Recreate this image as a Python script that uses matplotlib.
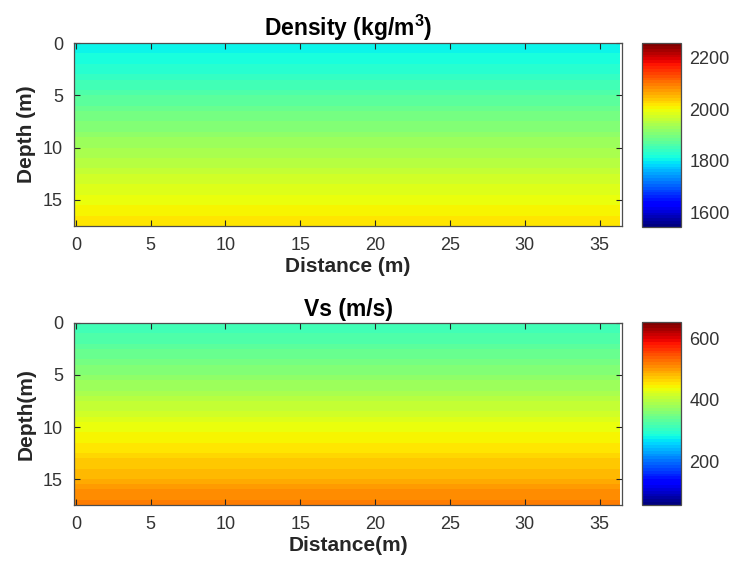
import matplotlib
matplotlib.use("Agg")
import matplotlib.pyplot as plt
import numpy as np

plt.rcParams['font.family'] = ['Liberation Sans', 'DejaVu Sans']
plt.rcParams['mathtext.fontset'] = 'custom'
plt.rcParams['mathtext.rm'] = 'Liberation Sans'
plt.rcParams['mathtext.bf'] = 'Liberation Sans:bold'

# layer tops (m), 0.5 m thick layers down to 17.5 m
layer_top = [0.0, 0.5, 1.0, 1.5, 2.0, 2.5, 3.0, 3.5, 4.0, 4.5, 5.0, 5.5,
             6.0, 6.5, 7.0, 7.5, 8.0, 8.5, 9.0, 9.5, 10.0, 10.5, 11.0, 11.5,
             12.0, 12.5, 13.0, 13.5, 14.0, 14.5, 15.0, 15.5, 16.0, 16.5, 17.0]
model_bottom = 17.5

# density per layer (kg/m^3)
density = [1804, 1809, 1815, 1821, 1827, 1833, 1840, 1847, 1854, 1861, 1868,
           1875, 1882, 1889, 1896, 1903, 1910, 1917, 1924, 1931, 1937, 1943,
           1949, 1955, 1961, 1967, 1973, 1979, 1985, 1991, 1997, 2003, 2009,
           2015, 2021]

# shear wave velocity per layer (m/s)
vs = [314, 318, 323, 328, 333, 338, 344, 350, 356, 362, 368, 375, 382, 389,
      396, 403, 410, 417, 424, 431, 437, 442, 447, 452, 457, 462, 467, 472,
      478, 484, 490, 497, 504, 511, 518]

# survey line extent (m)
dist_start, dist_end, dist_step = -0.125, 36.5, 0.25

density_clim = (1546, 2254)
vs_clim = (60, 652)
density_ticks = [1600, 1800, 2000, 2200]
vs_ticks = [200, 400, 600]

W, H = 731, 565
fig = plt.figure(figsize=(W / 100, H / 100), dpi=100)
jet = plt.get_cmap('jet', 64)
dark = '#262626'
edge = '#4d4d4d'


def frac(x0, y0, x1, y1):
    return [x0 / W, 1 - y1 / H, (x1 - x0) / W, (y1 - y0) / H]


x_edges = np.arange(dist_start, dist_end + dist_step / 2, dist_step)
z_edges = np.array(layer_top + [model_bottom])


def panel(rect, cb_rect, values, clim, cticks, title, xlabel, ylabel):
    ax = fig.add_axes(rect)
    grid = np.tile(np.array(values, float)[:, None], (1, len(x_edges) - 1))
    mesh = ax.pcolormesh(x_edges, z_edges, grid, cmap=jet,
                         vmin=clim[0], vmax=clim[1], shading='flat')
    ax.set_xlim(dist_start, dist_end)
    ax.set_ylim(model_bottom, 0)
    ax.set_xticks([0, 5, 10, 15, 20, 25, 30, 35])
    ax.set_yticks([0, 5, 10, 15])
    ax.tick_params(direction='in', top=True, right=True, length=4,
                   width=0.8, color=dark, labelcolor='#333333', labelsize=13,
                   pad=8)
    for s in ax.spines.values():
        s.set_color(edge)
        s.set_linewidth(0.9)
    ax.set_title(title, fontsize=16.5, fontweight='bold', pad=5)
    ax.set_xlabel(xlabel, fontsize=15, fontweight='bold', color=dark,
                  labelpad=2)
    ax.set_ylabel(ylabel, fontsize=15, fontweight='bold', color=dark,
                  labelpad=5)

    cax = fig.add_axes(cb_rect)
    cb = fig.colorbar(mesh, cax=cax, ticks=cticks)
    cb.ax.tick_params(direction='in', length=0, labelsize=13,
                      labelcolor='#333333', pad=6)
    cb.outline.set_edgecolor(edge)
    cb.outline.set_linewidth(0.9)
    return ax


panel(frac(74, 43, 622, 226), frac(642, 43, 681, 227), density,
      density_clim, density_ticks, r'Density (kg/m$^\mathbf{3}$)',
      'Distance (m)', 'Depth (m)')
panel(frac(74, 323, 622, 505), frac(642, 322, 681, 505), vs,
      vs_clim, vs_ticks, 'Vs (m/s)', 'Distance(m)', 'Depth(m)')

fig.savefig('out.png', dpi=100, facecolor='white')
